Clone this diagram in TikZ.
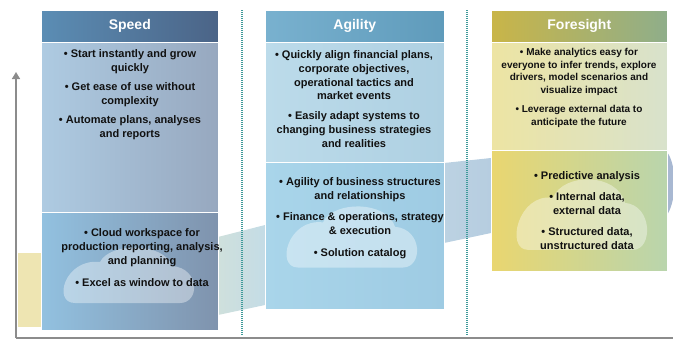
\documentclass[tikz,border=0pt]{standalone}
\usepackage{fontspec}
\setmainfont{Liberation Sans}
\usetikzlibrary{arrows.meta}
\definecolor{axisgray}{HTML}{8C8C8C}
\definecolor{septeal}{HTML}{3F9A9A}
\definecolor{spHl}{HTML}{5B8DB4}\definecolor{spHr}{HTML}{4B6487}
\definecolor{spUl}{HTML}{AECBE2}\definecolor{spUr}{HTML}{97A8BF}
\definecolor{spLl}{HTML}{92C1E0}\definecolor{spLr}{HTML}{7F93AD}
\definecolor{agHl}{HTML}{79B1CF}\definecolor{agHr}{HTML}{5F9BBB}
\definecolor{agUl}{HTML}{BCDBEA}\definecolor{agUr}{HTML}{AED0E2}
\definecolor{agLl}{HTML}{A9D5EA}\definecolor{agLr}{HTML}{9ECBE3}
\definecolor{foHl}{HTML}{C9B548}\definecolor{foHr}{HTML}{8FAE8A}
\definecolor{foUl}{HTML}{EDE4A3}\definecolor{foUr}{HTML}{D8E2CC}
\definecolor{foLl}{HTML}{E9D670}\definecolor{foLr}{HTML}{B9D5AD}
\definecolor{bandY}{HTML}{EEE5B2}
\definecolor{bandTl}{HTML}{CFE0DC}\definecolor{bandTr}{HTML}{C4DCE6}
\definecolor{bandBl}{HTML}{BCD2E2}\definecolor{bandBr}{HTML}{B6CDE0}
\definecolor{bandR}{HTML}{A8B8D2}
\definecolor{txtc}{HTML}{111111}
\begin{document}
\begin{tikzpicture}[x=1pt,y=-1pt,
  box/.style={rectangle, inner sep=0pt, anchor=north west, draw=white, line width=0.6pt},
  hdr/.style={box, text=white, font=\bfseries\fontsize{14}{16}\selectfont},
  txt/.style={align=center, text=txtc, inner sep=0pt, font=\bfseries\fontsize{11}{14}\selectfont},
  axisline/.style={draw=axisgray, line width=1.5pt},
  sepline/.style={draw=septeal, line width=1.2pt, dash pattern=on 1pt off 1pt},
  cloudpart/.style={fill=white, fill opacity=0.38},
  cloudshape/.pic={
    \fill[cloudpart] (15,55) -- (120,55)
      .. controls (140,55) and (140,20) .. (112,18)
      .. controls (104,-6) and (50,-6) .. (40,14)
      .. controls (5,10) and (-8,55) .. (15,55) -- cycle;
  }
]
\useasboundingbox (0,0) rectangle (673,341);

% background ribbon pieces
\fill[bandY] (18,253) rectangle (41,327);
\shade[left color=bandTl, right color=bandTr] (218,237) -- (265,225) -- (265,305) -- (218,315) -- cycle;
\shade[left color=bandBl, right color=bandBr] (444,163) -- (491,158) -- (491,233) -- (444,243) -- cycle;
\fill[bandR] (667,152) .. controls (677,165) and (677,200) .. (667,215) -- cycle;

% separators
\coordinate (s1t) at (242,10); \coordinate (s1b) at (242,336);
\coordinate (s2t) at (467,10); \coordinate (s2b) at (467,336);
\draw[sepline] (s1t) -- (s1b);
\draw[sepline] (s2t) -- (s2b);

% axes
\coordinate (o) at (16,338);
\coordinate (ytop) at (16,72);
\coordinate (xend) at (673,338);
\draw[axisline] (o) -- (xend);
\draw[axisline, -{Triangle[width=8pt,length=7pt]}] (o) -- (ytop);

% Speed column
\node[hdr, minimum width=177pt, minimum height=32pt, left color=spHl, right color=spHr] (spH) at (41,10) {Speed};
\node[box, minimum width=177pt, minimum height=170pt, left color=spUl, right color=spUr] (spU) at (41,42) {};
\node[box, minimum width=177pt, minimum height=118pt, left color=spLl, right color=spLr] (spL) at (41,212) {};
\pic at (60,248) {cloudshape};

% Agility column
\node[hdr, minimum width=179pt, minimum height=32pt, left color=agHl, right color=agHr] (agH) at (265,10) {Agility};
\node[box, minimum width=179pt, minimum height=120pt, left color=agUl, right color=agUr] (agU) at (265,42) {};
\node[box, minimum width=179pt, minimum height=147pt, left color=agLl, right color=agLr] (agL) at (265,162) {};
\pic[yscale=1.1] at (283,207) {cloudshape};

% Foresight column
\node[hdr, minimum width=176pt, minimum height=32pt, left color=foHl, right color=foHr] (foH) at (491,10) {Foresight};
\node[box, minimum width=176pt, minimum height=108pt, left color=foUl, right color=foUr] (foU) at (491,42) {};
\node[box, minimum width=176pt, minimum height=121pt, left color=foLl, right color=foLr] (foL) at (491,150) {};
\pic[yscale=1.27] at (513,180) {cloudshape};

% texts
\node[txt] (spUt) at (130,95) {• Start instantly and grow\\ quickly\\[5pt] • Get ease of use without\\ complexity\\[5pt] • Automate plans, analyses\\ and reports};
\node[txt] (spLt) at (142,258) {• Cloud workspace for\\ production reporting, analysis,\\ and planning\\[8pt] • Excel as window to data};
\node[txt, font=\bfseries\fontsize{11}{13.7}\selectfont] (agUt) at (354,99) {• Quickly align financial plans,\\ corporate objectives,\\ operational tactics and\\ market events\\[6pt] • Easily adapt systems to\\ changing business strategies\\ and realities};
\node[txt] (agLt) at (360,218) {• Agility of business structures\\ and relationships\\[7pt] • Finance \& operations, strategy\\ \& execution\\[8pt] • Solution catalog};
\node[txt, font=\bfseries\fontsize{10}{12.5}\selectfont] (foUt) at (579,88) {• Make analytics easy for\\ everyone to infer trends, explore\\ drivers, model scenarios and\\ visualize impact\\[7pt] • Leverage external data to\\ anticipate the future};
\node[txt] (foLt) at (587,211) {• Predictive analysis\\[7pt] • Internal data,\\ external data\\[7pt] • Structured data,\\ unstructured data};
\end{tikzpicture}
\end{document}
